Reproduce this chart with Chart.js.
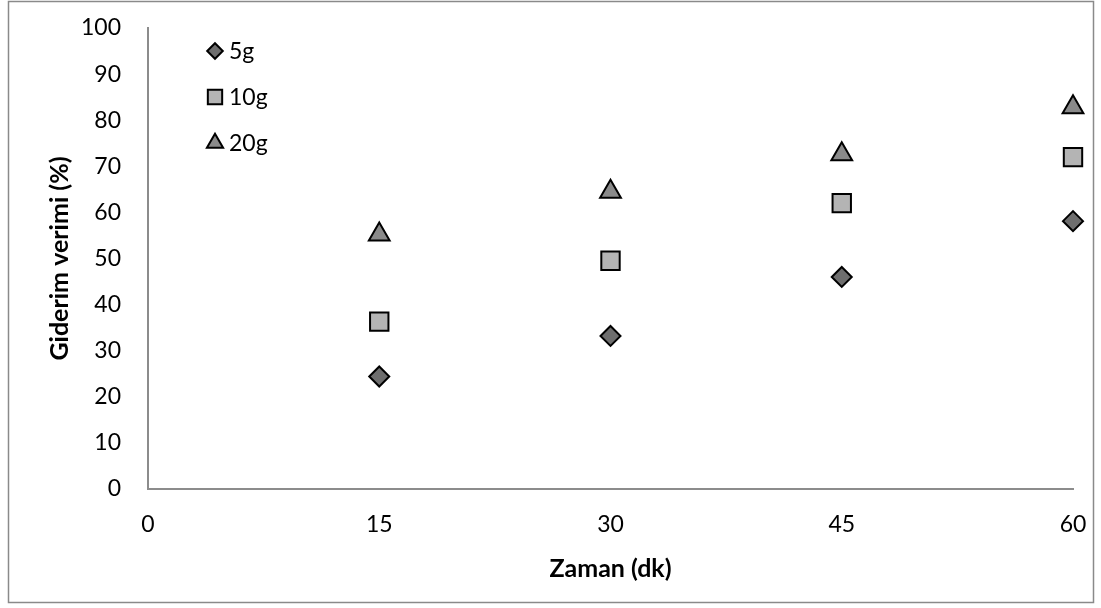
<!DOCTYPE html>
<html>
<head>
<meta charset="utf-8">
<script src="https://cdn.jsdelivr.net/npm/chart.js@4.4.1/dist/chart.umd.min.js"></script>
<style>
  html, body { margin: 0; padding: 0; background: #fff; }
  #wrap { width: 1101px; height: 608px; position: relative; }
</style>
</head>
<body>
<div id="wrap"><canvas id="c" width="1101" height="608"></canvas></div>
<script>
// Removal efficiency over contact time for three adsorbent doses
const times = [15, 30, 45, 60];
const dose5g = [24.4, 33.2, 46.0, 58.1];
const dose10g = [36.3, 49.5, 62.0, 72.0];
const dose20g = [55.2, 64.5, 72.6, 82.8];
const seriesNames = ['5g', '10g', '20g'];
const xTicks = [0, 15, 30, 45, 60];

const FONT = 'Lato, "Liberation Sans", sans-serif';

function pts(vals) { return times.map((t, i) => ({ x: t, y: vals[i] })); }

// keep the plot area fixed: ignore label overhang padding
function noOverhang(axis) {
  axis.paddingLeft = 0; axis.paddingRight = 0;
  axis.paddingTop = 0; axis.paddingBottom = 0;
}

const frame = {
  id: 'frame',
  beforeDraw(chart) {
    const ctx = chart.ctx;
    ctx.save();
    ctx.fillStyle = '#fff';
    ctx.fillRect(0, 0, chart.width, chart.height);
    ctx.strokeStyle = '#8a8a8a';
    ctx.lineWidth = 1.5;
    ctx.strokeRect(8.5, 1.5, 1085, 601);
    ctx.restore();
  }
};

const insetLegend = {
  id: 'insetLegend',
  afterDatasetsDraw(chart) {
    const ctx = chart.ctx;
    const x0 = 215, rows = [51, 97, 143];
    chart.data.datasets.forEach((ds, i) => {
      const y = rows[i];
      ctx.save();
      ctx.fillStyle = ds.backgroundColor;
      ctx.strokeStyle = ds.borderColor;
      ctx.lineWidth = ds.borderWidth;
      Chart.helpers.drawPoint(ctx, { pointStyle: ds.pointStyle, radius: ds.pointRadius * 0.78, borderWidth: ds.borderWidth }, x0, y);
      ctx.fillStyle = '#000';
      ctx.font = '23px ' + FONT;
      ctx.textBaseline = 'middle';
      ctx.textAlign = 'left';
      ctx.fillText(ds.label, x0 + 14, y + 1);
      ctx.restore();
    });
  }
};

new Chart(document.getElementById('c'), {
  type: 'scatter',
  data: {
    datasets: [
      { label: seriesNames[0], data: pts(dose5g), pointStyle: 'rectRot', pointRadius: 10, pointHoverRadius: 10,
        backgroundColor: '#6e6e6e', borderColor: '#000', borderWidth: 2, clip: false },
      { label: seriesNames[1], data: pts(dose10g), pointStyle: 'rect', pointRadius: 13, pointHoverRadius: 13,
        backgroundColor: '#b4b4b4', borderColor: '#000', borderWidth: 2, clip: false },
      { label: seriesNames[2], data: pts(dose20g), pointStyle: 'triangle', pointRadius: 12, pointHoverRadius: 12,
        backgroundColor: '#8a8a8a', borderColor: '#000', borderWidth: 2, clip: false }
    ]
  },
  options: {
    responsive: false,
    animation: false,
    devicePixelRatio: 1,
    layout: { padding: { left: 0, right: 28, top: 28, bottom: 0 } },
    plugins: { legend: { display: false }, tooltip: { enabled: false } },
    scales: {
      x: {
        type: 'linear', min: 0, max: 60,
        afterBuildTicks(axis) { axis.ticks = xTicks.map(v => ({ value: v })); },
        afterFit(axis) { axis.height = 119; noOverhang(axis); },
        grid: { display: false, drawTicks: false },
        border: { display: true, color: '#8c8c8c', width: 2 },
        ticks: { color: '#000', font: { family: FONT, size: 23 }, padding: 22, maxRotation: 0 },
        title: { display: true, text: 'Zaman (dk)', color: '#000', font: { family: FONT, size: 25, weight: 'bold' }, padding: { top: 0, bottom: 24 } }
      },
      y: {
        min: 0, max: 100,
        afterFit(axis) { axis.width = 148; noOverhang(axis); },
        grid: { display: false, drawTicks: false },
        border: { display: true, color: '#8c8c8c', width: 2 },
        ticks: { stepSize: 10, color: '#000', font: { family: FONT, size: 23 }, padding: 27 },
        title: { display: true, text: 'Giderim verimi (%)', color: '#000', font: { family: FONT, size: 25, weight: 'bold' }, padding: { top: 45, bottom: 0 } }
      }
    }
  },
  plugins: [frame, insetLegend]
});
</script>
</body>
</html>
